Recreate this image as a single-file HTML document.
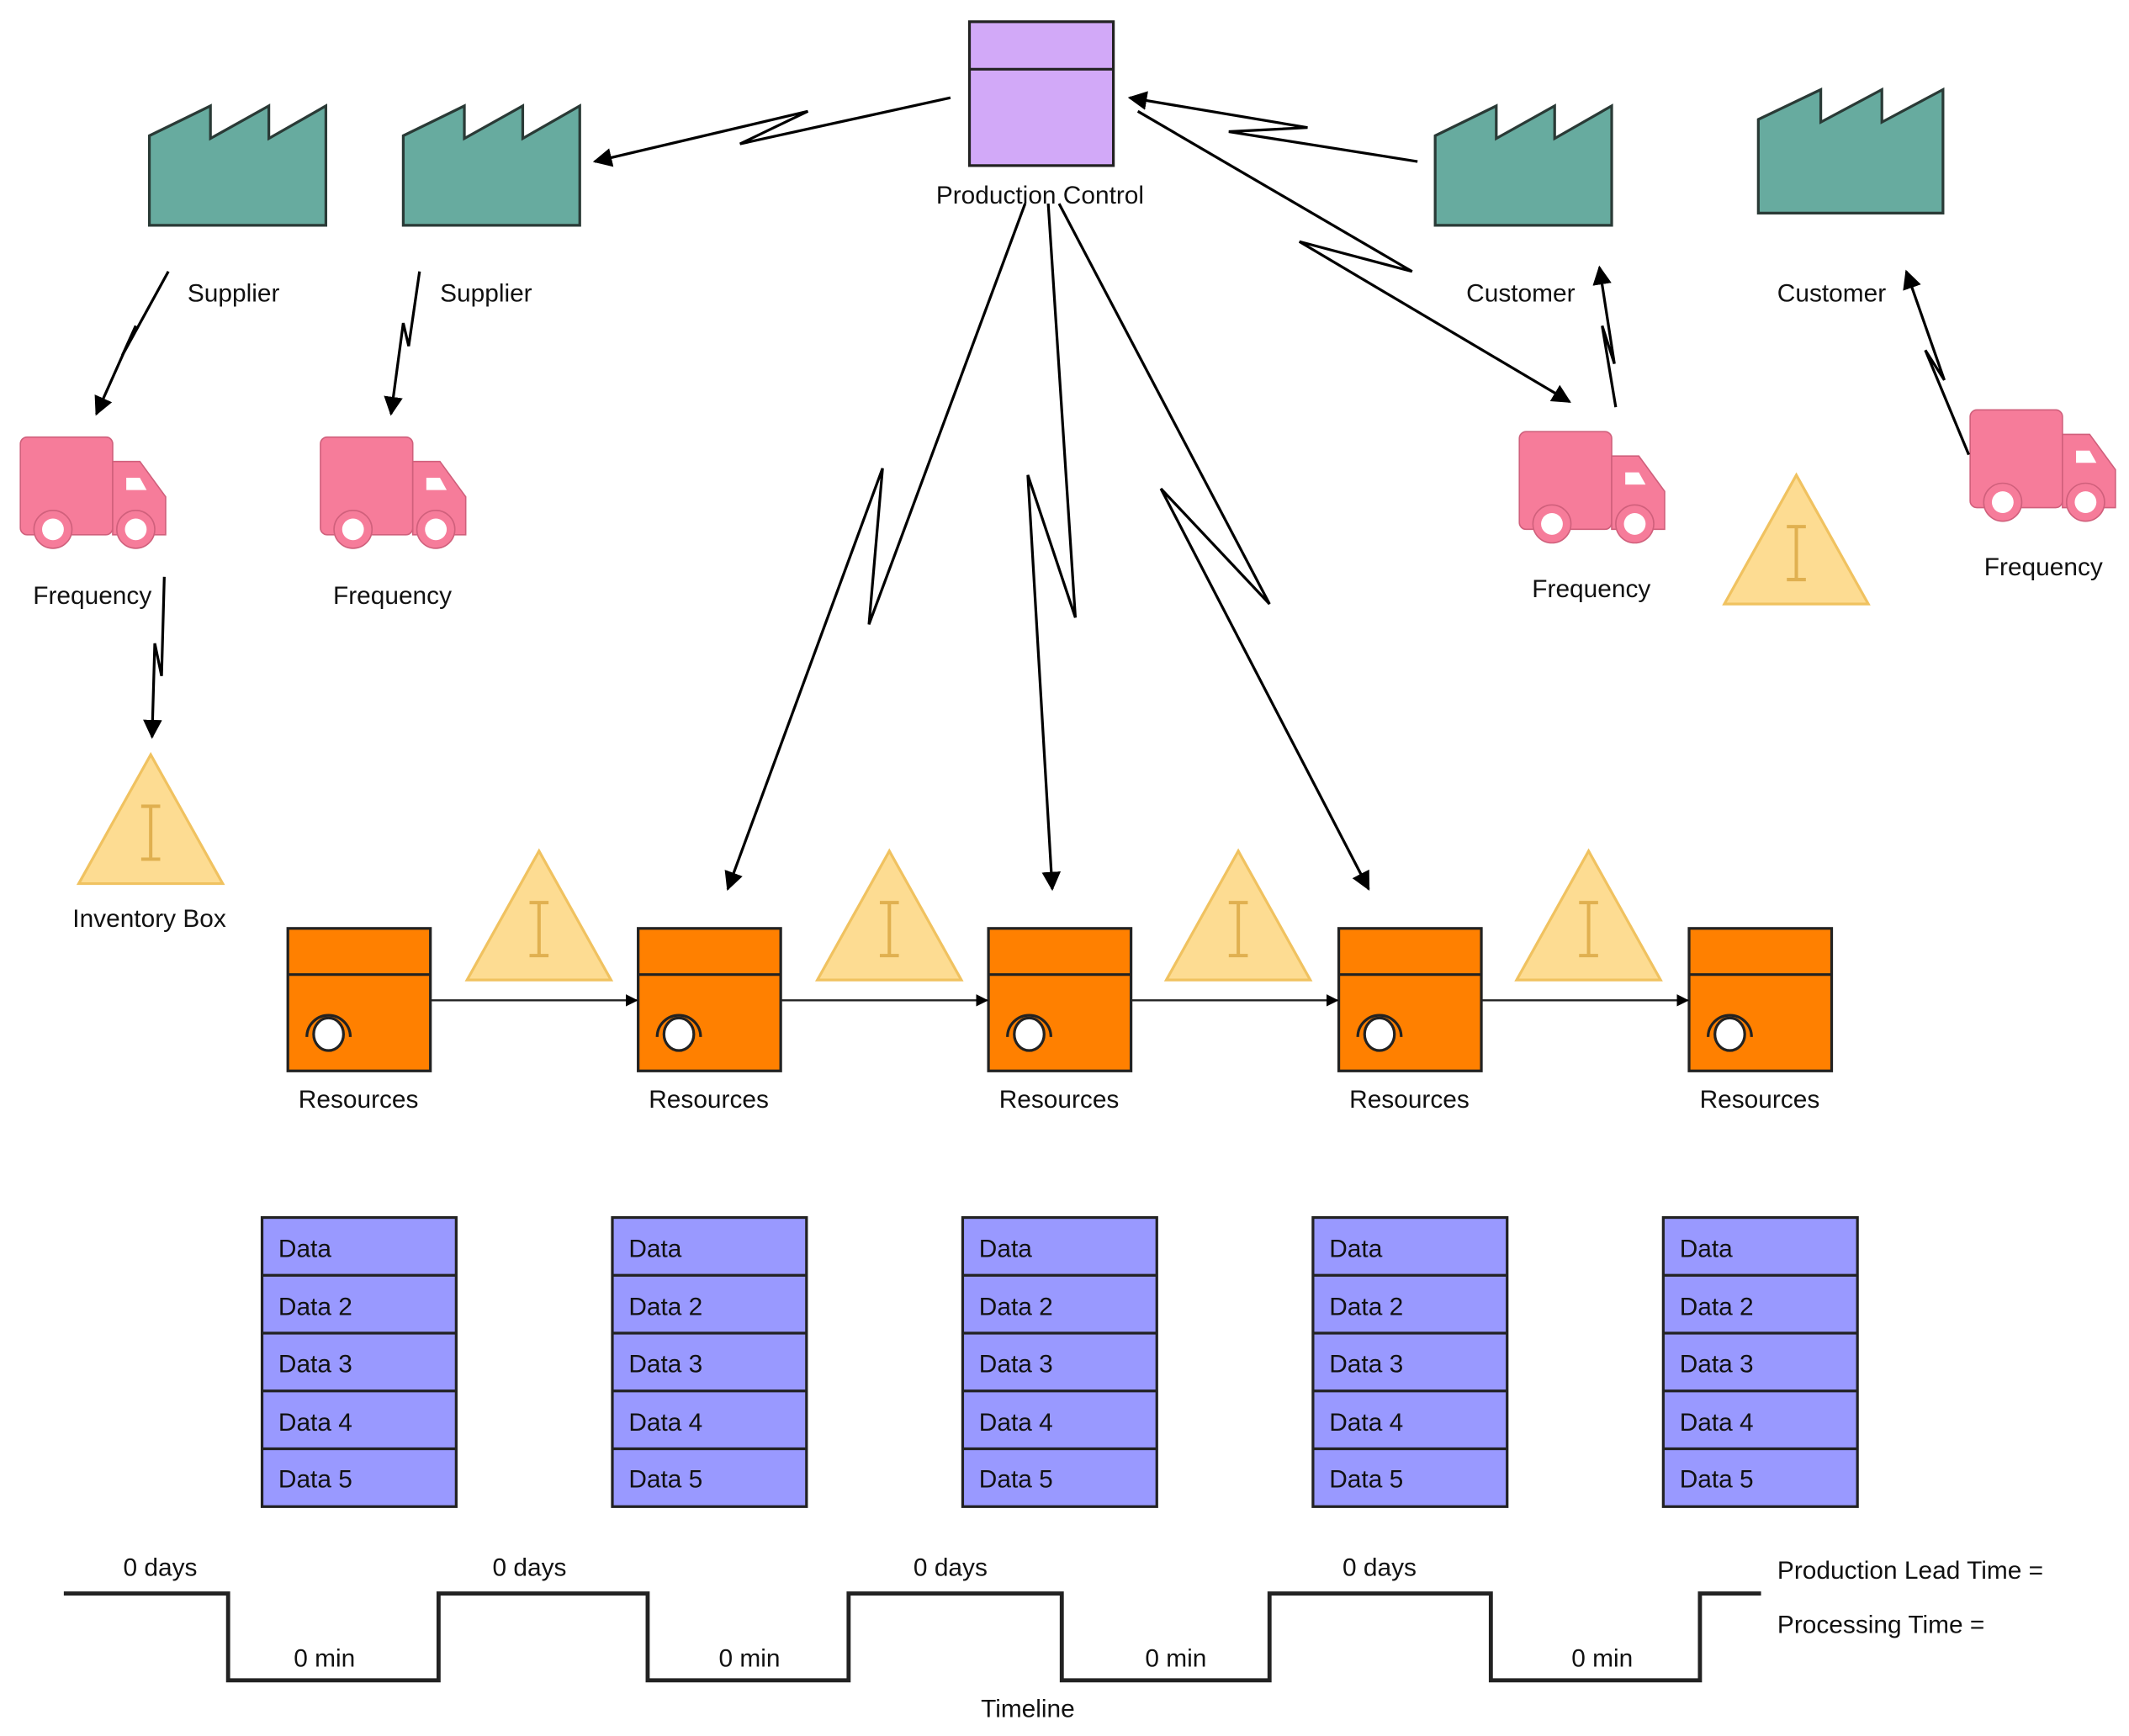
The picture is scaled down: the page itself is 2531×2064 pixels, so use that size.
<!DOCTYPE html>
<html><head><meta charset="utf-8"><style>
html,body{margin:0;padding:0;background:#fff}
svg{display:block}
text{font-family:"Liberation Sans",Arial,sans-serif;font-size:18.5px;fill:#111}
</style></head><body>
<svg width="2531" height="2064" viewBox="0 0 1568 1279" preserveAspectRatio="none" xmlns="http://www.w3.org/2000/svg">
<defs>
<marker id="a" viewBox="0 0 10 10" refX="9" refY="5" markerWidth="9" markerHeight="9" orient="auto" markerUnits="userSpaceOnUse">
<path d="M0,0 L10,5 L0,10 Z" fill="#000"/></marker>
<marker id="b" viewBox="0 0 10 10" refX="9" refY="5" markerWidth="14" markerHeight="14" orient="auto" markerUnits="userSpaceOnUse">
<path d="M0,0 L10,5 L0,10 Z" fill="#000"/></marker>
<g id="fac"><path d="M0,22 L45,0 L45,24 L88,0 L88,24 L130,0 L130,88 L0,88 Z" fill="#67AB9F" stroke="#2a3a36" stroke-width="2"/></g>
<g id="truck">
<rect x="0" y="0" width="68" height="72" rx="5" fill="#F67C9A" stroke="#d0607c" stroke-width="1"/>
<path d="M68,18 H88 L107,44 V72 H68 Z" fill="#F67C9A" stroke="#d0607c" stroke-width="1"/>
<path d="M78,30 H88 L93,39 H78 Z" fill="#fff"/>
<circle cx="24" cy="68" r="14" fill="#F67C9A" stroke="#d0607c"/><circle cx="24" cy="68" r="8" fill="#fff"/>
<circle cx="85" cy="68" r="14" fill="#F67C9A" stroke="#d0607c"/><circle cx="85" cy="68" r="8" fill="#fff"/>
</g>
<g id="inv"><path d="M53,0 L106,95 L0,95 Z" fill="#FDDC92" stroke="#F0C260" stroke-width="2"/>
<path d="M46,38 H60 M53,38 V77 M46,77 H60" stroke="#E0B050" stroke-width="2.5" fill="none"/></g>
<g id="res"><rect x="0" y="0" width="105" height="105" fill="#FF8000" stroke="#222" stroke-width="2"/>
<line x1="0" y1="34" x2="105" y2="34" stroke="#222" stroke-width="2"/>
<path d="M14,80 A16,16 0 0 1 46,80" fill="none" stroke="#222" stroke-width="2"/>
<ellipse cx="30" cy="78" rx="11" ry="12" fill="#fff" stroke="#222" stroke-width="2"/></g>
<g id="dat">
<rect x="0" y="0" width="143" height="213" fill="#9999FF" stroke="#222" stroke-width="2"/>
<path d="M0,42.6H143M0,85.2H143M0,127.8H143M0,170.4H143" stroke="#222" stroke-width="2"/>
<text x="12" y="29">Data</text><text x="12" y="72">Data 2</text><text x="12" y="114">Data 3</text><text x="12" y="157">Data 4</text><text x="12" y="199">Data 5</text>
</g>
</defs>

<rect x="714" y="16" width="106" height="106" fill="#D2A9F8" stroke="#222" stroke-width="2"/>
<line x1="714" y1="51" x2="820" y2="51" stroke="#222" stroke-width="2"/>
<text x="766" y="150" text-anchor="middle">Production Control</text>

<use href="#fac" x="110" y="78"/><use href="#fac" x="297" y="78"/><use href="#fac" x="1057" y="78"/>
<path d="M1295,88 L1341,66 L1341,90 L1386,66 L1386,90 L1431,66 L1431,157 L1295,157 Z" fill="#67AB9F" stroke="#2a3a36" stroke-width="2"/>
<text x="172" y="222" text-anchor="middle">Supplier</text>
<text x="358" y="222" text-anchor="middle">Supplier</text>
<text x="1120" y="222" text-anchor="middle">Customer</text>
<text x="1349" y="222" text-anchor="middle">Customer</text>

<use href="#truck" x="15" y="322"/><use href="#truck" x="236" y="322"/><use href="#truck" x="1119" y="318"/><use href="#truck" x="1451" y="302"/>
<text x="68" y="445" text-anchor="middle">Frequency</text>
<text x="289" y="445" text-anchor="middle">Frequency</text>
<text x="1172" y="440" text-anchor="middle">Frequency</text>
<text x="1505" y="424" text-anchor="middle">Frequency</text>

<use href="#inv" x="58" y="556"/><text x="110" y="683" text-anchor="middle">Inventory Box</text>
<use href="#inv" x="1270" y="350"/>
<use href="#inv" x="344" y="627"/><use href="#inv" x="602" y="627"/><use href="#inv" x="859" y="627"/><use href="#inv" x="1117" y="627"/>

<use href="#res" x="212" y="684"/><use href="#res" x="470" y="684"/><use href="#res" x="728" y="684"/><use href="#res" x="986" y="684"/><use href="#res" x="1244" y="684"/>
<g stroke="#222" stroke-width="1.5" fill="none" marker-end="url(#a)">
<line x1="317" y1="737" x2="469" y2="737"/><line x1="575" y1="737" x2="727" y2="737"/><line x1="833" y1="737" x2="985" y2="737"/><line x1="1091" y1="737" x2="1243" y2="737"/>
</g>
<text x="264" y="816" text-anchor="middle">Resources</text><text x="522" y="816" text-anchor="middle">Resources</text><text x="780" y="816" text-anchor="middle">Resources</text><text x="1038" y="816" text-anchor="middle">Resources</text><text x="1296" y="816" text-anchor="middle">Resources</text>

<use href="#dat" x="193" y="897"/><use href="#dat" x="451" y="897"/><use href="#dat" x="709" y="897"/><use href="#dat" x="967" y="897"/><use href="#dat" x="1225" y="897"/>

<g stroke="#000" stroke-width="2" fill="none" marker-end="url(#b)">
<path d="M700,72 L545,106 L595,82 L438,119"/>
<path d="M1044,119 L905,97 L963,94 L832,72"/>
<path d="M838,82 L1040,200 L957,178 L1156,296"/>
<path d="M755,150 L640,460 L650,345 L536,655"/>
<path d="M772,150 L792,455 L757,350 L775,655"/>
<path d="M780,150 L935,445 L855,360 L1008,655"/>
<path d="M124,200 L90,262 L100,240 L71,305"/>
<path d="M309,200 L301,255 L297,238 L288,305"/>
<path d="M121,425 L119,498 L114,474 L112,543"/>
<path d="M1190,300 L1180,240 L1189,268 L1178,197"/>
<path d="M1450,335 L1418,258 L1432,280 L1404,200"/>
</g>

<path d="M47,1174 H168 V1238 H323 V1174 H477 V1238 H625 V1174 H782 V1238 H935 V1174 H1098 V1238 H1252 V1174 H1297" fill="none" stroke="#222" stroke-width="3"/>
<text x="118" y="1161" text-anchor="middle">0 days</text><text x="390" y="1161" text-anchor="middle">0 days</text><text x="700" y="1161" text-anchor="middle">0 days</text><text x="1016" y="1161" text-anchor="middle">0 days</text>
<text x="239" y="1228" text-anchor="middle">0 min</text><text x="552" y="1228" text-anchor="middle">0 min</text><text x="866" y="1228" text-anchor="middle">0 min</text><text x="1180" y="1228" text-anchor="middle">0 min</text>
<text x="757" y="1265" text-anchor="middle">Timeline</text>
<text x="1309" y="1163">Production Lead Time =</text>
<text x="1309" y="1203">Processing Time =</text>
</svg>
</body></html>
